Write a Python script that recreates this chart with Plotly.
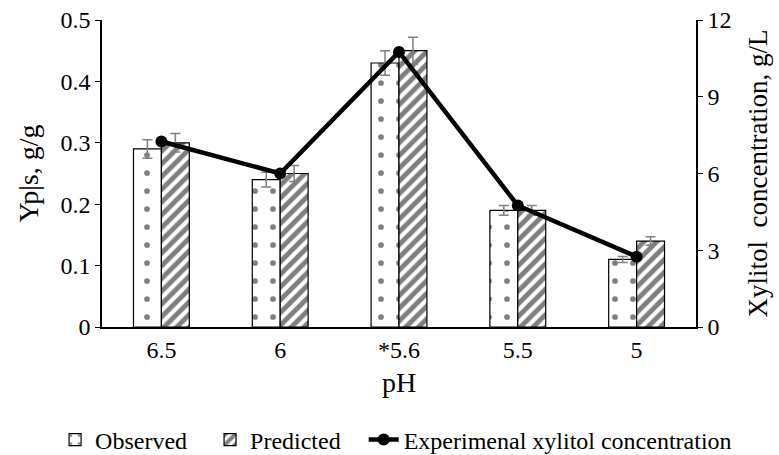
import plotly.graph_objects as go

categories = ["6.5", "6", "*5.6", "5.5", "5"]
observed = [0.29, 0.24, 0.43, 0.19, 0.11]
observed_err = [0.015, 0.012, 0.02, 0.008, 0.005]
predicted = [0.30, 0.25, 0.45, 0.19, 0.14]
predicted_err = [0.015, 0.013, 0.022, 0.008, 0.007]
xylitol = [7.25, 6.0, 10.75, 4.75, 2.75]
series_names = ["Observed", "Predicted", "Experimenal xylitol concentration"]

FONT = "Liberation Serif, Times New Roman, serif"
def f(size):
    return dict(family=FONT, size=size, color="black")

PAD = "\u00a0" * 3
fig = go.Figure()
fig.add_trace(go.Bar(
    x=categories, y=observed, name=series_names[0] + PAD,
    marker=dict(color="white", line=dict(color="black", width=1.2),
                pattern=dict(shape=".", fgcolor="black", bgcolor="white", size=18, solidity=0.08)),
    error_y=dict(type="data", array=observed_err, color="#808080", thickness=1.5, width=5),
))
fig.add_trace(go.Bar(
    x=categories, y=predicted, name=series_names[1] + PAD,
    marker=dict(color="white", line=dict(color="black", width=1.2),
                pattern=dict(shape="/", fgcolor="black", bgcolor="white", size=9, solidity=0.55)),
    error_y=dict(type="data", array=predicted_err, color="#808080", thickness=1.5, width=5),
))
fig.add_trace(go.Scatter(
    x=categories, y=xylitol, name=series_names[2], yaxis="y2",
    mode="lines+markers", line=dict(color="black", width=4.5),
    marker=dict(color="black", size=12),
))

fig.update_layout(
    width=779, height=455,
    margin=dict(l=102, r=83, t=20, b=128, autoexpand=False),
    plot_bgcolor="white", paper_bgcolor="white",
    font=f(24),
    barmode="group", bargap=0.53, bargroupgap=0,
    showlegend=True,
    legend=dict(orientation="h", x=-0.079, xanchor="left", y=-0.368, yanchor="middle",
                font=f(24), itemwidth=30, traceorder="normal"),
    xaxis=dict(showline=True, linecolor="black", linewidth=1.5, ticks="",
               tickfont=f(24),
               title=dict(text="pH", standoff=11, font=f(28)), showgrid=False),
    yaxis=dict(range=[0, 0.5], tickvals=[0, 0.1, 0.2, 0.3, 0.4, 0.5],
               ticktext=["0", "0.1", "0.2", "0.3", "0.4", "0.5"], tickfont=f(24),
               showline=True, linecolor="black", linewidth=1.5,
               ticks="outside", ticklen=5, tickcolor="black", showgrid=False, zeroline=False,
               title=dict(text="Yp|s, g/g", standoff=14, font=f(28))),
    yaxis2=dict(range=[0, 12], tickvals=[0, 3, 6, 9, 12], overlaying="y", side="right",
                tickfont=f(24),
                showline=True, linecolor="black", linewidth=1.5,
                ticks="outside", ticklen=5, tickcolor="black", showgrid=False, zeroline=False,
                title=dict(text="Xylitol  concentration, g/L", standoff=18, font=f(27))),
)

fig.write_html("out.html", post_script="document.body.style.margin='0';",
               config={"displayModeBar": False})
